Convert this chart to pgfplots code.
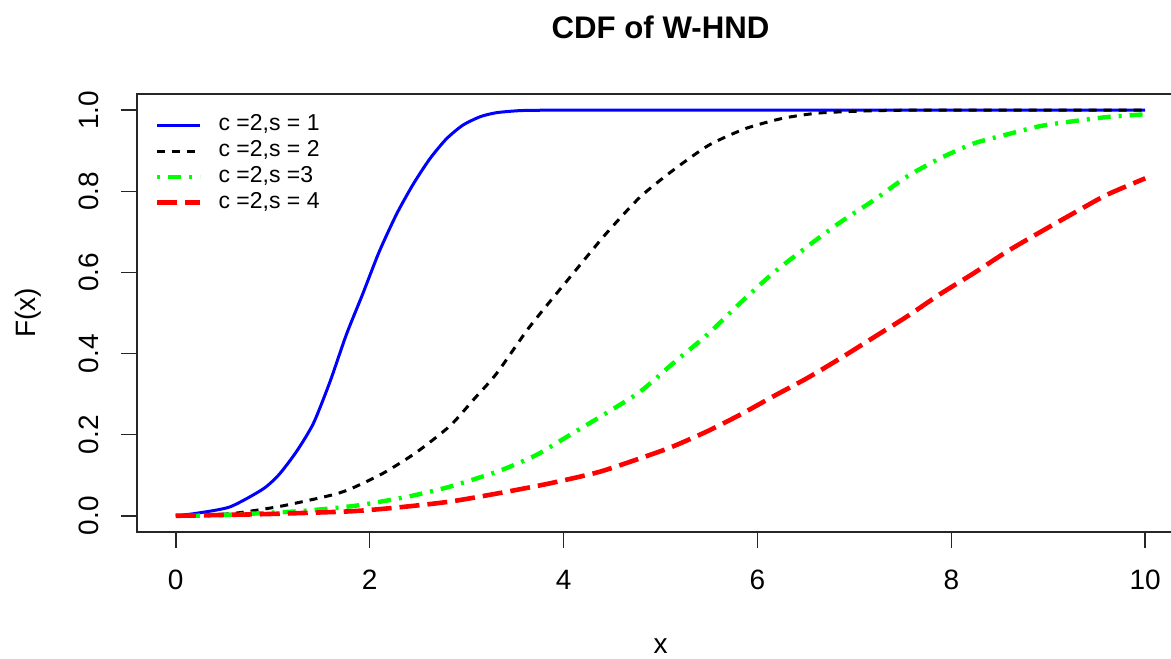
\documentclass[border=0pt]{standalone}
\usepackage{fontspec}
\setmainfont{Liberation Sans}
\usepackage{pgfplots}
\pgfplotsset{compat=1.18}

% curves: x, F(x)
\pgfplotstableread{
x y
0 0
0.21 0.006
0.56 0.022
0.90 0.066
1.07 0.103
1.25 0.160
1.42 0.228
1.59 0.330
1.76 0.447
1.93 0.548
2.10 0.652
2.28 0.745
2.45 0.818
2.62 0.880
2.79 0.929
2.96 0.963
3.14 0.984
3.31 0.994
3.55 0.999
3.8 1.0
4.2 1.0
5 1.0
6 1.0
7 1.0
8 1.0
9 1.0
10 1.0
}\sone
\pgfplotstableread{
x y
0 0
0.56 0.005
1.07 0.023
1.59 0.050
1.80 0.066
2.14 0.105
2.48 0.156
2.83 0.222
3.07 0.286
3.31 0.351
3.65 0.466
4.10 0.598
4.44 0.696
4.79 0.786
5.13 0.852
5.50 0.914
5.88 0.955
6.26 0.980
6.63 0.993
7.09 0.998
7.50 1.0
8 1.0
8.5 1.0
9 1.0
9.5 1.0
10 1.0
}\stwo
\pgfplotstableread{
x y
0 0
0.39 0.001
1.25 0.011
1.86 0.025
2.41 0.048
2.83 0.072
3.34 0.111
3.72 0.150
4.07 0.200
4.44 0.253
4.79 0.306
5.13 0.376
5.48 0.446
5.82 0.524
6.16 0.598
6.51 0.663
6.85 0.723
7.20 0.778
7.54 0.836
7.88 0.881
8.23 0.918
8.57 0.940
8.92 0.961
9.26 0.973
9.60 0.983
10 0.990
}\sthree
\pgfplotstableread{
x y
0 0
0.90 0.004
1.80 0.011
2.31 0.021
2.83 0.035
3.34 0.056
3.86 0.080
4.38 0.109
4.89 0.150
5.13 0.171
5.48 0.208
5.82 0.249
6.16 0.294
6.51 0.339
6.84 0.386
7.20 0.440
7.54 0.491
7.88 0.546
8.23 0.598
8.57 0.651
8.92 0.700
9.26 0.746
9.60 0.791
10 0.832
}\sfour

\begin{document}
\begin{tikzpicture}
\useasboundingbox (-68.5pt,-63pt) rectangle (517pt,266pt);
\begin{axis}[
    at={(0,0)}, anchor=south west,
    scale only axis,
    width=523.5pt, height=219pt,
    xmin=-0.4, xmax=10.4, ymin=-0.04, ymax=1.04,
    axis line style={line width=0.8pt, black!85},
    xtick={0,2,4,6,8,10},
    ytick={0,0.2,0.4,0.6,0.8,1},
    yticklabels={0.0,0.2,0.4,0.6,0.8,1.0},
    xtick pos=bottom, ytick pos=left,
    tick align=outside,
    major tick length=8pt,
    tick style={line width=0.8pt, black!85},
    /pgf/number format/assume math mode=true,
    tick label style={font=\fontsize{14}{16}\selectfont},
    xticklabel style={anchor=center, yshift=-16pt},
    yticklabel style={xshift=-16pt, rotate=90, anchor=center},
    title={CDF of W-HND},
    title style={at={(0.5,1)}, anchor=center, yshift=27.5pt, font=\bfseries\fontsize{15.6}{18}\selectfont},
    xlabel={x},
    xlabel style={at={(0.5,0)}, anchor=center, yshift=-57pt, inner sep=1pt, font=\fontsize{14}{16}\selectfont},
    ylabel={F(x)},
    ylabel style={at={(0,0.5)}, anchor=center, yshift=54.5pt, font=\fontsize{14}{16}\selectfont},
    legend style={at={(axis description cs:0.0172,1)}, anchor=north west, yshift=-10.5pt,
        draw=none, fill=none, inner sep=0pt, outer sep=0pt,
        font=\fontsize{11.5}{13}\selectfont, row sep=2.35pt,
        nodes={inner sep=0pt, text height=8pt, text depth=2.5pt},
        /tikz/every odd column/.append style={column sep=8pt}},
    legend cell align=left,
    legend image code/.code={\draw[#1] (0pt,0pt) -- (21.5pt,0pt);},
]
\addplot[blue, line width=1.5pt, smooth, tension=0.4] table {\sone};
\addlegendentry{c =2,s = 1}
\addplot[black, line width=1.5pt, smooth, tension=0.4, dash pattern=on 4pt off 3.5pt] table {\stwo};
\addlegendentry{c =2,s = 2}
\addplot[green, line width=2.2pt, smooth, tension=0.4, dash pattern=on 1.5pt off 4pt on 6.5pt off 4pt] table {\sthree};
\addlegendentry{c =2,s =3}
\addplot[red, line width=2.3pt, smooth, tension=0.4, dash pattern=on 10pt off 4pt] table {\sfour};
\addlegendentry{c =2,s = 4}
\end{axis}
\end{tikzpicture}
\end{document}
